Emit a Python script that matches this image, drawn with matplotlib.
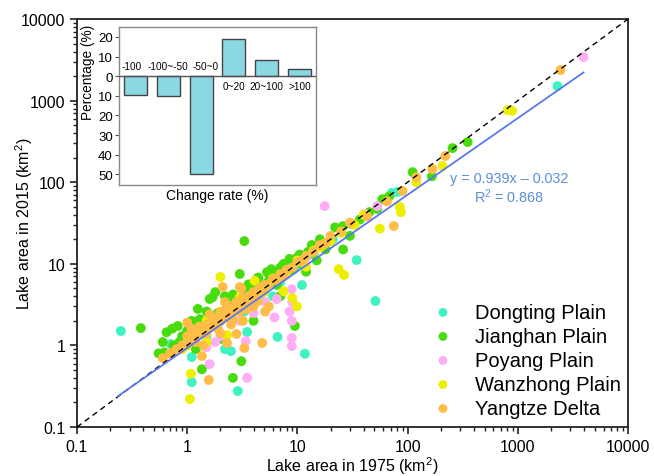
import numpy as np
import matplotlib
matplotlib.use("Agg")
import matplotlib.pyplot as plt
from matplotlib.ticker import FixedLocator, FixedFormatter, LogLocator, NullFormatter

plt.rcParams['font.family'] = ['Liberation Sans', 'DejaVu Sans']
plt.rcParams['mathtext.fontset'] = 'custom'
plt.rcParams['mathtext.rm'] = 'Liberation Sans'
plt.rcParams['mathtext.it'] = 'Liberation Sans:italic'

# lake areas (km2): 1975 vs 2015, per region
dongting_1975 = [0.25, 2290, 51, 34.5, 11.7, 2.88, 1.1, 1.1, 6.6, 0.71, 2.2, 2.5, 3.5, 11, 3.3,
                 72, 81, 21, 0.88, 1.5, 2.0, 3.0, 4.0, 5.0, 7.0, 8.0, 10, 14, 20, 6.0, 4.5, 1.3, 16]
dongting_2015 = [1.5, 1510, 3.5, 11.1, 0.79, 0.276, 0.355, 0.72, 1.27, 1.04, 0.9, 0.85, 1.46, 5.5, 2.6,
                 74, 76, 20, 1.13, 1.3, 2.4, 3.3, 3.5, 5.5, 6.0, 9.0, 9.5, 13, 20, 4.0, 3.8, 1.6, 17]

jianghan_1975 = [0.38, 0.55, 0.65, 0.73, 0.82, 0.9, 1.0, 1.05, 1.1, 1.25, 1.3, 1.5, 1.6, 1.7, 1.8, 2.2,
                 2.0, 2.3, 2.5, 2.7, 3.0, 3.3, 3.5, 4.0, 4.5, 5.0, 5.3, 5.4, 5.6, 6.0, 6.5, 7.0, 8.0,
                 8.5, 9.5, 10, 11, 13.5, 16, 18, 22, 26, 26, 30, 31, 37, 45, 53, 59, 68, 111, 166,
                 256, 351, 0.62, 1.36, 2.6, 3.1, 2.0, 1.2, 4.0, 7.0, 12, 15, 0.6, 0.75, 1.4, 2.8,
                 3.8, 6.0, 9.0, 12.5, 20, 1.9, 2.4, 4.8, 0.85, 1.15, 1.05, 1.7, 2.6, 3.6, 4.4, 5.8,
                 7.5, 10.5, 14]
jianghan_2015 = [1.63, 0.8, 1.45, 1.6, 1.73, 1.3, 1.5, 1.2, 2.0, 2.8, 2.1, 2.6, 3.7, 3.9, 4.5, 4.0,
                 2.0, 3.0, 3.5, 2.7, 7.5, 19, 4.5, 5.0, 6.0, 5.0, 7.9, 6.0, 7.1, 8.0, 5.5, 9.0, 7.5,
                 11.5, 1.73, 12, 10, 17, 20, 15, 28, 29, 15, 22, 31, 35, 43, 47, 62, 67, 133, 118,
                 262, 311, 0.82, 0.51, 0.4, 0.64, 1.2, 0.9, 2.0, 4.0, 8.0, 11, 1.1, 1.0, 1.8, 3.2,
                 4.0, 6.5, 8.5, 14, 19, 2.5, 2.2, 5.5, 1.1, 1.6, 1.9, 2.3, 4.2, 5.6, 6.8, 8.6,
                 10, 13, 16.5]

poyang_1975 = [17.7, 3950, 3.5, 8.9, 8.9, 1.6, 1.5, 3.4, 8.9, 9.0, 8.9, 5.1, 6.2, 8.5, 6.5,
               41, 53, 2.0, 1.8, 4.0, 12, 3.0, 6.0]
poyang_2015 = [51, 3420, 0.4, 1.23, 0.98, 0.59, 0.95, 1.13, 4.9, 3.4, 2.0, 3.4, 2.2, 2.6, 3.7,
               41, 51, 1.3, 1.1, 2.5, 12, 2.0, 6.5]

wanzhong_1975 = [1.2, 1.5, 2.0, 2.5, 3.0, 3.5, 4.1, 5.0, 6.0, 7.5, 8.0, 9.0, 9.9, 10, 12, 14,
                 17.5, 23.7, 26.5, 33, 56, 85, 87, 120, 208, 809, 890, 1.06, 1.08, 2.0, 2.3,
                 1.5, 20, 40, 1.0, 0.9, 2.8, 4.5, 16, 25]
wanzhong_2015 = [1.4, 2.0, 2.5, 3.0, 3.9, 3.0, 6.2, 4.5, 6.6, 4.6, 8.0, 3.8, 3.0, 11, 9.2, 14.5,
                 17.5, 8.6, 7.3, 30, 27, 50, 43, 100, 158, 767, 750, 0.22, 0.45, 6.9, 1.34,
                 1.1, 19, 40, 1.0, 0.9, 3.0, 5.0, 16, 24]

yangtze_1975 = [0.6, 0.7, 0.8, 0.9, 1.0, 1.0, 1.1, 1.2, 1.2, 1.3, 1.3, 1.4, 1.5, 1.5, 1.6, 1.7,
                1.8, 1.9, 2.0, 2.0, 2.2, 2.3, 2.4, 2.5, 2.7, 2.8, 3.0, 3.0, 3.2, 3.4, 3.6, 3.8,
                4.0, 4.2, 4.5, 4.8, 5.0, 5.5, 6.0, 6.5, 7.0, 7.5, 8.0, 9.0, 10, 11, 12, 14, 16,
                18, 20, 25, 30, 43, 65, 90, 120, 168, 220, 2440, 0.71, 1.36, 1.57, 2.3, 3.3,
                4.8, 2.8, 2.1, 3.0, 5.1, 75, 2.0, 1.9, 2.5, 3.2, 4.0, 1.4, 5.5, 1.0, 3.1,
                1.1, 1.6, 2.2, 2.6, 3.5, 4.4]
yangtze_2015 = [0.7, 0.8, 0.9, 1.0, 1.1, 1.3, 1.2, 1.5, 1.1, 1.4, 1.7, 1.5, 1.8, 1.4, 1.7, 2.0,
                1.9, 2.2, 2.1, 2.6, 2.3, 2.7, 3.0, 2.5, 3.0, 3.4, 3.2, 2.6, 3.8, 3.5, 4.0, 3.6,
                4.5, 4.2, 5.0, 4.8, 5.5, 5.6, 6.5, 6.3, 7.5, 7.0, 8.5, 9.0, 10.5, 11, 12.5, 14, 17,
                18, 22, 25, 32, 38, 58, 78, 115, 145, 210, 2370, 0.79, 0.74, 0.377, 1.07, 0.93,
                1.07, 1.38, 5.2, 5.2, 2.6, 29, 1.4, 1.6, 1.8, 2.0, 3.0, 1.0, 3.0, 1.9, 5.0,
                1.6, 2.4, 3.4, 2.1, 2.8, 3.5]

regions = ['Dongting Plain', 'Jianghan Plain', 'Poyang Plain', 'Wanzhong Plain', 'Yangtze Delta']
region_colors = ['#3ff2c2', '#47dc0c', '#ffadf7', '#eeee00', '#ffbd47']

# regression y = 0.939x - 0.032 (log space)
fit_slope = 0.939
fit_icpt = -0.032
fit_range = [0.235, 3950]

# inset: change-rate distribution
change_cats = ['-100', '-100~-50', '-50~0', '0~20', '20~100', '>100']
change_pct = [-9.5, -10.2, -50, 19, 8.5, 3.6]


def main():
    fig = plt.figure(figsize=(6.54, 4.77), dpi=100)
    ax = fig.add_axes([0.1177, 0.1027, 0.8425, 0.8553])

    xs = [dongting_1975, jianghan_1975, poyang_1975, wanzhong_1975, yangtze_1975]
    ys = [dongting_2015, jianghan_2015, poyang_2015, wanzhong_2015, yangtze_2015]
    for x, y, name, c in zip(xs, ys, regions, region_colors):
        ax.scatter(x, y, s=50, color=c, edgecolors='none', label=name, zorder=2)

    ax.plot([0.1, 10000], [0.1, 10000], ls=(0, (4, 3)), color='black', lw=1.0, zorder=3)
    fx = np.array(fit_range)
    fy = 10 ** (fit_slope * np.log10(fx) + fit_icpt)
    ax.plot(fx, fy, color='#5a78f0', lw=1.3, zorder=3)

    ax.set_xscale('log')
    ax.set_yscale('log')
    ax.set_xlim(0.1, 10000)
    ax.set_ylim(0.1, 10000)
    ticks = [0.1, 1, 10, 100, 1000, 10000]
    labels = ['0.1', '1', '10', '100', '1000', '10000']
    for axis in (ax.xaxis, ax.yaxis):
        axis.set_major_locator(FixedLocator(ticks))
        axis.set_major_formatter(FixedFormatter(labels))
        axis.set_minor_locator(LogLocator(base=10, subs=np.arange(2, 10)))
        axis.set_minor_formatter(NullFormatter())
    ax.tick_params(which='major', direction='out', length=5, width=1.2, labelsize=11.5, color='#222222')
    ax.tick_params(which='minor', direction='out', length=2.8, width=1.0, color='#222222')
    for sp in ax.spines.values():
        sp.set_linewidth(1.3)
        sp.set_color('#222222')
    ax.set_xlabel('Lake area in 1975 (km$^2$)', fontsize=11.5)
    ax.set_ylabel('Lake area in 2015 (km$^2$)', fontsize=11.5)
    ax.xaxis.set_label_coords(0.5, -0.068)
    ax.yaxis.set_label_coords(-0.076, 0.5)

    ax.text(0.784, 0.610, 'y = 0.939x \u2013 0.032', color='#5b8fd8', fontsize=10.4,
            ha='center', va='center', transform=ax.transAxes)
    ax.text(0.784, 0.568, 'R$^2$ = 0.868', color='#5b8fd8', fontsize=10.4,
            ha='center', va='center', transform=ax.transAxes)

    ax.legend(loc='lower right', bbox_to_anchor=(1.013, -0.012), frameon=False, fontsize=14.5,
              markerscale=0.9, handletextpad=0.6, labelspacing=0.25, borderaxespad=0.3)

    # inset bar chart
    ins = fig.add_axes([0.182, 0.610, 0.301, 0.331])
    pos = np.arange(len(change_cats))
    ins.bar(pos, change_pct, width=0.7, color='#8ad8e4', edgecolor='#444444', linewidth=1.0, zorder=2)
    ins.axhline(0, color='#555555', lw=1.0, zorder=3)
    ins.set_xlim(-0.5, 5.5)
    ins.set_ylim(-55.5, 25)
    label_shift = [-0.1, 0.0, 0.15, 0.0, 0.0, 0.0]
    for i, (lab, v) in enumerate(zip(change_cats, change_pct)):
        if v < 0:
            ins.text(i + label_shift[i], 2.5, lab, ha='center', va='bottom', fontsize=7.2)
        else:
            ins.text(i + label_shift[i], -2.5, lab, ha='center', va='top', fontsize=7.2)
    ins.set_xticks([])
    yt = [20, 10, 0, -10, -20, -30, -40, -50]
    ins.set_yticks(yt)
    ins.set_yticklabels([str(abs(t)) for t in yt])
    ins.tick_params(axis='y', direction='out', length=3, width=0.8, labelsize=9.5, pad=1.5, color='#555555')
    for sp in ins.spines.values():
        sp.set_linewidth(1.0)
        sp.set_color('#888888')
    ins.set_xlabel('Change rate (%)', fontsize=10, labelpad=2)
    ins.set_ylabel('Percentage (%)', fontsize=9.8, labelpad=2)
    ins.yaxis.set_label_coords(-0.12, 0.72)

    fig.savefig('out.png', dpi=100)


if __name__ == '__main__':
    main()
